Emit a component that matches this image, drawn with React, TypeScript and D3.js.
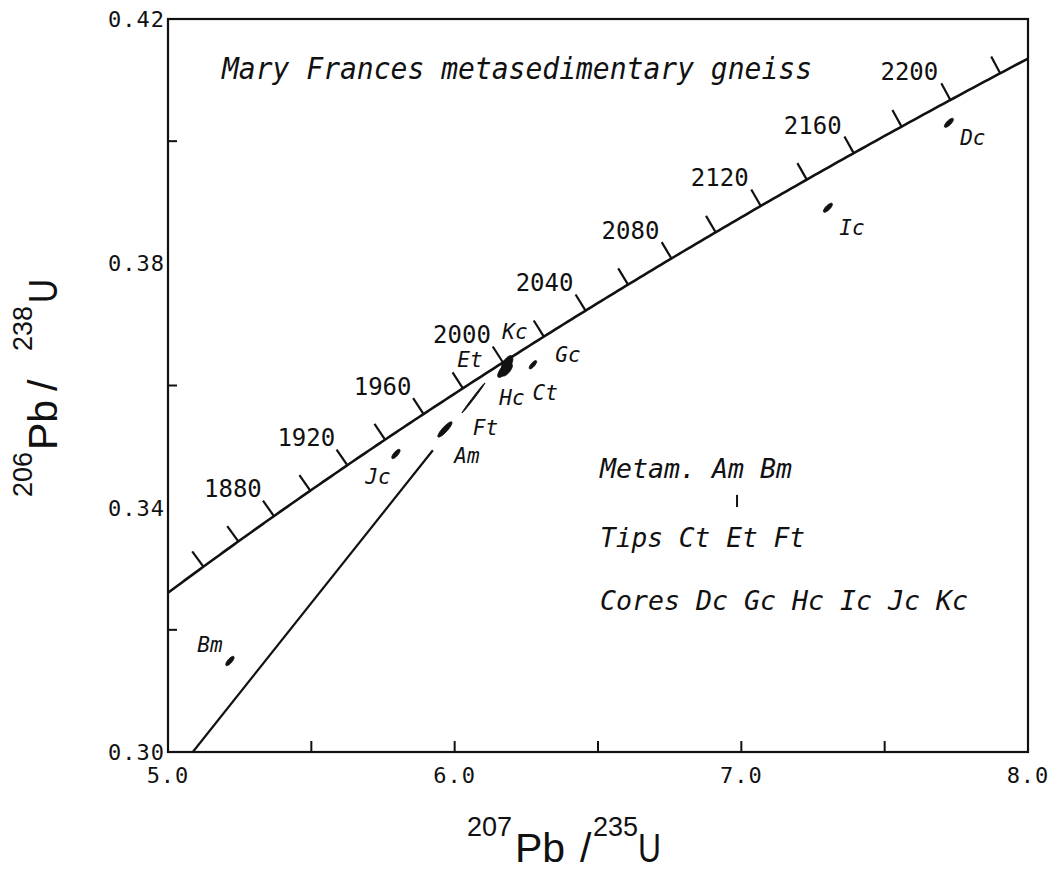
import React from "react";
import * as d3 from "d3";

// Axis extents and tick values
const X_DOMAIN: [number, number] = [5.0, 8.0];
const Y_DOMAIN: [number, number] = [0.3, 0.42];
const X_TICK_LABELS = [5.0, 6.0, 7.0, 8.0];
const X_MINOR_TICKS = [5.5, 6.0, 6.5, 7.0, 7.5];
const Y_TICK_LABELS = [0.3, 0.34, 0.38, 0.42];
const Y_MINOR_TICKS = [0.32, 0.36, 0.4];

// Concordia age marks (Ma)
const CONCORDIA_TICK_AGES = [
  1840, 1860, 1880, 1900, 1920, 1940, 1960, 1980, 2000, 2020, 2040, 2060,
  2080, 2100, 2120, 2140, 2160, 2180, 2200, 2220,
];
const CONCORDIA_LABEL_AGES = [1880, 1920, 1960, 2000, 2040, 2080, 2120, 2160, 2200];

// Decay constants (per Ma)
const LAMBDA_238 = 1.55125e-4;
const LAMBDA_235 = 9.8485e-4;

// Zircon analyses: 207Pb/235U, 206Pb/238U, half-extents and error correlation
const ANALYSIS_NAMES = ["Dc", "Ic", "Gc", "Kc", "Et", "Ct", "Hc", "Ft", "Am", "Jc", "Bm"];
const PB207_U235 = [7.724, 7.302, 6.273, 6.1824, 6.1789, 6.1835, 6.1685, 6.0656, 5.966, 5.795, 5.216];
const PB206_U238 = [0.403, 0.3891, 0.3634, 0.36385, 0.36303, 0.36255, 0.36238, 0.35796, 0.3528, 0.34879, 0.3149];
const SIGMA_X = [0.0157, 0.0157, 0.013, 0.0185, 0.024, 0.018, 0.0185, 0.0401, 0.0247, 0.0145, 0.0145];
const SIGMA_Y = [0.00074, 0.00074, 0.00068, 0.00105, 0.0016, 0.001, 0.00105, 0.00246, 0.00125, 0.00076, 0.00076];
const RHO = [0.76, 0.76, 0.76, 0.72, 0.78, 0.72, 0.72, 0.996, 0.88, 0.76, 0.76];

// Pb-loss chord through the origin, drawn up to 207Pb/235U = 5.924
const CHORD_SLOPE = 0.05898;
const CHORD_END_X = 5.924;

// Small stray mark beside the legend
const STRAY_MARK = { x: 6.985, y0: 0.3401, y1: 0.3421 };

const LEGEND_LINES = ["Metam. Am Bm", "Tips Ct Et Ft", "Cores Dc Gc Hc Ic Jc Kc"];
const TITLE = "Mary Frances metasedimentary gneiss";

const W = 1054;
const H = 870;
const PLOT = { left: 168, right: 1028, top: 19, bottom: 752 };

const MONO = "'DejaVu Sans Mono', 'Liberation Mono', monospace";
const SANS = "'Liberation Sans', Arial, sans-serif";

// Label placement around each analysis (pixel offsets of the label centre)
const LABEL_OFFSETS: Record<string, [number, number]> = {
  Dc: [24, 15],
  Ic: [24, 20],
  Gc: [35, -10],
  Kc: [8, -30],
  Et: [-36, -7],
  Ct: [38, 23],
  Hc: [9, 27],
  Ft: [12, 30],
  Am: [22, 26],
  Jc: [-18, 23],
  Bm: [-20, -16],
};

export default function App() {
  const x = d3.scaleLinear().domain(X_DOMAIN).range([PLOT.left, PLOT.right]);
  const y = d3.scaleLinear().domain(Y_DOMAIN).range([PLOT.bottom, PLOT.top]);

  const r207 = (t: number) => Math.exp(LAMBDA_235 * t) - 1;
  const r206 = (t: number) => Math.exp(LAMBDA_238 * t) - 1;

  // Concordia between the x-axis limits
  const tMin = Math.log(1 + X_DOMAIN[0]) / LAMBDA_235;
  const tMax = Math.log(1 + X_DOMAIN[1]) / LAMBDA_235;
  const ages = d3.range(tMin, tMax, 2).concat([tMax]);
  const concordiaPath = d3
    .line<number>()
    .x((t) => x(r207(t)))
    .y((t) => y(r206(t)))(ages) as string;

  // Unit normal to the concordia in screen space, pointing up-left
  const normalAt = (t: number) => {
    const dx = x(r207(t + 0.5)) - x(r207(t - 0.5));
    const dy = y(r206(t + 0.5)) - y(r206(t - 0.5));
    const len = Math.hypot(dx, dy);
    return [dy / len, -dx / len];
  };

  const chordPath = d3
    .line<number>()
    .x((v) => x(v))
    .y((v) => y(CHORD_SLOPE * v))([Y_DOMAIN[0] / CHORD_SLOPE, CHORD_END_X]) as string;

  const ellipsePath = (i: number) => {
    const pts = d3.range(0, 361, 6).map((deg) => {
      const a = (deg * Math.PI) / 180;
      const px = PB207_U235[i] + SIGMA_X[i] * Math.cos(a);
      const py =
        PB206_U238[i] +
        SIGMA_Y[i] * (RHO[i] * Math.cos(a) + Math.sqrt(1 - RHO[i] * RHO[i]) * Math.sin(a));
      return [x(px), y(py)] as [number, number];
    });
    return d3.line().curve(d3.curveLinearClosed)(pts) as string;
  };

  const stroke = "#111";

  const xLabel = [
    { t: "207", u: 467, sup: true, w: 0 },
    { t: "Pb", u: 515, sup: false, w: 0 },
    { t: "/", u: 580, sup: false, w: 0 },
    { t: "235", u: 593, sup: true, w: 0 },
    { t: "U", u: 638, sup: false, w: 23 },
  ];
  const yLabel = [
    { t: "206", u: 0, sup: true, w: 0 },
    { t: "Pb", u: 47, sup: false, w: 0 },
    { t: "/", u: 106, sup: false, w: 0 },
    { t: "238", u: 146, sup: true, w: 0 },
    { t: "U", u: 194, sup: false, w: 24 },
  ];

  return (
    <svg
      width={W}
      height={H}
      viewBox={`0 0 ${W} ${H}`}
      style={{ position: "absolute", left: 0, top: 0, background: "#fff" }}
    >
      <rect x={0} y={0} width={W} height={H} fill="#fff" />

      {/* plot frame */}
      <rect
        x={PLOT.left}
        y={PLOT.top}
        width={PLOT.right - PLOT.left}
        height={PLOT.bottom - PLOT.top}
        fill="none"
        stroke={stroke}
        strokeWidth={2.2}
      />

      {/* axis ticks */}
      {X_MINOR_TICKS.map((v) => (
        <line
          key={`xt${v}`}
          x1={x(v)}
          x2={x(v)}
          y1={PLOT.bottom}
          y2={PLOT.bottom - 11}
          stroke={stroke}
          strokeWidth={2}
        />
      ))}
      {Y_MINOR_TICKS.map((v) => (
        <line
          key={`yt${v}`}
          x1={PLOT.left}
          x2={PLOT.left + 9}
          y1={y(v)}
          y2={y(v)}
          stroke={stroke}
          strokeWidth={2}
        />
      ))}

      {/* axis tick labels */}
      {X_TICK_LABELS.map((v) => (
        <text
          key={`xl${v}`}
          x={x(v)}
          y={PLOT.bottom + 31}
          textAnchor="middle"
          fontFamily={MONO}
          fontSize={22}
          letterSpacing={1}
          fill={stroke}
        >
          {v.toFixed(1)}
        </text>
      ))}
      {Y_TICK_LABELS.map((v) => (
        <text
          key={`yl${v}`}
          x={PLOT.left - 3}
          y={y(v) + 8}
          textAnchor="end"
          fontFamily={MONO}
          fontSize={22}
          letterSpacing={1}
          fill={stroke}
        >
          {v.toFixed(2)}
        </text>
      ))}

      {/* axis titles */}
      <g fontFamily={SANS} fill={stroke}>
        {xLabel.map((p) => (
          <text
            key={`xa${p.t}`}
            x={p.u}
            y={p.sup ? 836 : 862}
            fontSize={p.sup ? 27 : 41}
            {...(p.w ? { textLength: p.w, lengthAdjust: "spacingAndGlyphs" } : {})}
          >
            {p.t}
          </text>
        ))}
        <g transform="translate(57,497) rotate(-90)">
          {yLabel.map((p) => (
            <text
              key={`ya${p.t}`}
              x={p.u}
              y={p.sup ? -25 : 0}
              fontSize={p.sup ? 27 : 41}
              {...(p.w ? { textLength: p.w, lengthAdjust: "spacingAndGlyphs" } : {})}
            >
              {p.t}
            </text>
          ))}
        </g>
      </g>

      {/* concordia */}
      <path d={concordiaPath} fill="none" stroke={stroke} strokeWidth={2.6} />
      {CONCORDIA_TICK_AGES.map((t) => {
        const [nx, ny] = normalAt(t);
        const cx = x(r207(t));
        const cy = y(r206(t));
        return (
          <line
            key={`ct${t}`}
            x1={cx}
            y1={cy}
            x2={cx + nx * 19}
            y2={cy + ny * 19}
            stroke={stroke}
            strokeWidth={2.2}
          />
        );
      })}
      {CONCORDIA_LABEL_AGES.map((t) => (
        <text
          key={`cl${t}`}
          x={x(r207(t)) - 41}
          y={y(r206(t)) - 19.5}
          textAnchor="middle"
          fontFamily={MONO}
          fontSize={24}
          fill={stroke}
        >
          {t}
        </text>
      ))}

      {/* chord towards the origin */}
      <path d={chordPath} fill="none" stroke={stroke} strokeWidth={2.2} />

      {/* error ellipses */}
      {ANALYSIS_NAMES.map((n, i) => (
        <path key={`e${n}`} d={ellipsePath(i)} fill={stroke} stroke={stroke} strokeWidth={1} />
      ))}

      {/* analysis labels */}
      {ANALYSIS_NAMES.map((n, i) => {
        const [ox, oy] = LABEL_OFFSETS[n];
        return (
          <text
            key={`l${n}`}
            x={x(PB207_U235[i]) + ox}
            y={y(PB206_U238[i]) + oy + 7.5}
            textAnchor="middle"
            fontFamily={MONO}
            fontStyle="italic"
            fontSize={21}
            fill={stroke}
          >
            {n}
          </text>
        );
      })}

      {/* title */}
      <text
        x={222}
        y={79}
        fontFamily={MONO}
        fontStyle="italic"
        fontSize={30}
        textLength={590}
        lengthAdjust="spacingAndGlyphs"
        fill={stroke}
      >
        {TITLE}
      </text>

      {/* legend */}
      {LEGEND_LINES.map((s, i) => (
        <text
          key={`lg${i}`}
          x={600}
          y={[478, 547, 610][i]}
          fontFamily={MONO}
          fontStyle="italic"
          fontSize={26.5}
          textLength={[192, 205, 368][i]}
          lengthAdjust="spacingAndGlyphs"
          fill={stroke}
        >
          {s}
        </text>
      ))}

      <line
        x1={x(STRAY_MARK.x)}
        x2={x(STRAY_MARK.x)}
        y1={y(STRAY_MARK.y0)}
        y2={y(STRAY_MARK.y1)}
        stroke={stroke}
        strokeWidth={2}
      />
    </svg>
  );
}
